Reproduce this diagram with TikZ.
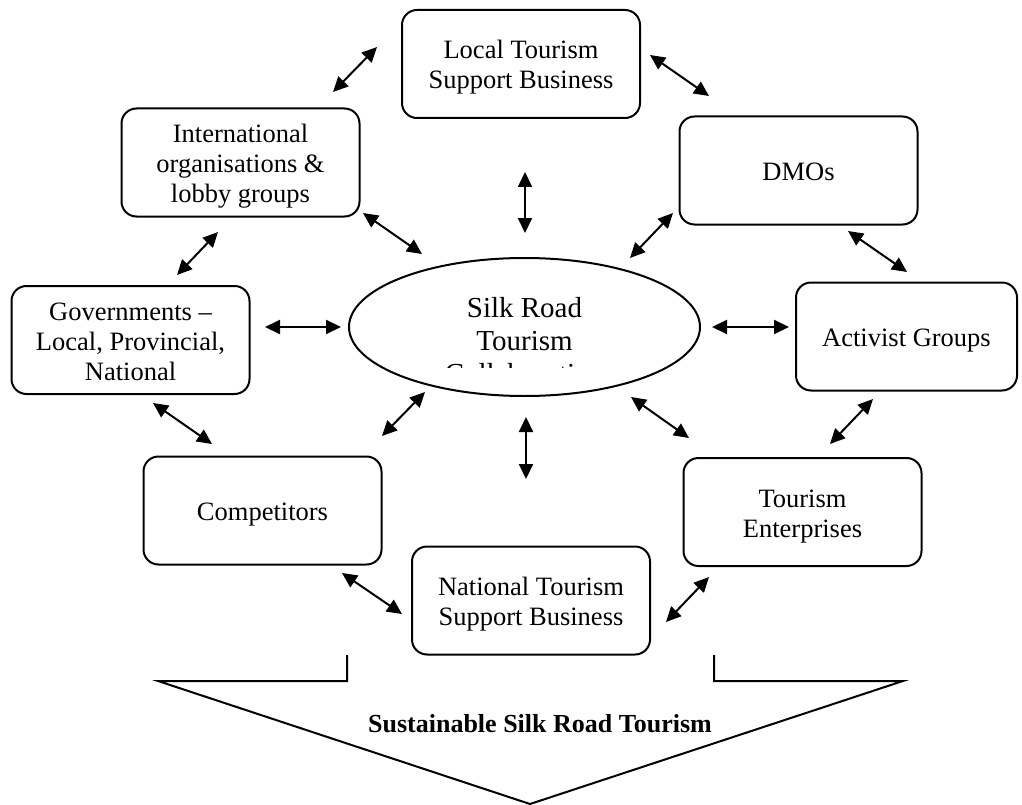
\documentclass[tikz,border=0pt]{standalone}
\usepackage{fontspec}
\setmainfont{Liberation Serif}
\usetikzlibrary{arrows.meta,shapes.geometric}
\begin{document}
\begin{tikzpicture}[x=1pt,y=-1pt,
  box/.style={draw, line width=2pt, rounded corners=15pt, minimum width=238pt,
    minimum height=108pt, inner sep=0pt, outer sep=0pt, align=center,
    font=\fontsize{26.5}{30}\selectfont},
  one/.style={text height=25pt, text depth=5pt},
  two/.style={text height=55pt, text depth=5pt},
  three/.style={text height=85pt, text depth=5pt},
  link/.style={line width=2pt,
    {Triangle[length=15pt,width=14pt]}-{Triangle[length=15pt,width=14pt]}},
]
\useasboundingbox (0,0) rectangle (1022,805);

% stakeholder boxes
\node[box, two]   (local) at (521,64)     {Local Tourism\\Support Business};
\node[box, one]   (dmo)   at (798.5,170.5) {DMOs};
\node[box, one, minimum width=221pt] (act) at (906.5,336.5) {Activist Groups};
\node[box, three] (intl)  at (240.5,162.5) {International\\organisations \&\\lobby groups};
\node[box, three] (gov)   at (130.5,340)   {Governments --\\Local, Provincial,\\National};
\node[box, one]   (comp)  at (262.5,510.5) {Competitors};
\node[box, two]   (natl)  at (531,600.5)   {National Tourism\\Support Business};
\node[box, two]   (tent)  at (802.5,512)   {Tourism\\Enterprises};

% central hub, its last text line cut off by the text frame
\node[draw, ellipse, line width=2pt, minimum width=351pt, minimum height=138pt,
  inner sep=0pt] (hub) at (524.5,327) {};
\begin{scope}
  \clip (0,0) rectangle (1022,367);
  \node[anchor=base, align=center, font=\fontsize{29}{33}\selectfont]
    (hubtext) at (524.5,383) {Silk Road\\Tourism\\Collaboration};
\end{scope}

% arrow end points
\coordinate (a1s) at (333,92);   \coordinate (a1e) at (377,47);
\coordinate (a2s) at (650,55);   \coordinate (a2e) at (709,96);
\coordinate (a3s) at (525,172);  \coordinate (a3e) at (525,233);
\coordinate (a4s) at (363,213);  \coordinate (a4e) at (422,254);
\coordinate (a5s) at (673,213);  \coordinate (a5e) at (630,258);
\coordinate (a6s) at (848,231);  \coordinate (a6e) at (907,272);
\coordinate (a7s) at (218,232);  \coordinate (a7e) at (177,275);
\coordinate (a8s) at (265,327);  \coordinate (a8e) at (341,327);
\coordinate (a9s) at (712,327);  \coordinate (a9e) at (789,327);
\coordinate (a10s) at (153,403); \coordinate (a10e) at (212,444);
\coordinate (a11s) at (425,392); \coordinate (a11e) at (382,436);
\coordinate (a12s) at (526,417); \coordinate (a12e) at (526,479);
\coordinate (a13s) at (631,397); \coordinate (a13e) at (689,438);
\coordinate (a14s) at (873,399); \coordinate (a14e) at (830,444);
\coordinate (a15s) at (342,573); \coordinate (a15e) at (402,614);
\coordinate (a16s) at (709,577); \coordinate (a16e) at (666,622);

\foreach \i in {1,...,16}{\draw[link] (a\i s) -- (a\i e);}

% outcome arrow
\draw[line width=2pt, miter limit=20]
  (347,655) -- (347,681) -- (158,681) -- (530,804) -- (903,681) -- (714,681) -- (714,655);
\node[anchor=base, font=\bfseries\fontsize{26}{30}\selectfont] (goal) at (540,732)
  {Sustainable Silk Road Tourism};
\end{tikzpicture}
\end{document}
